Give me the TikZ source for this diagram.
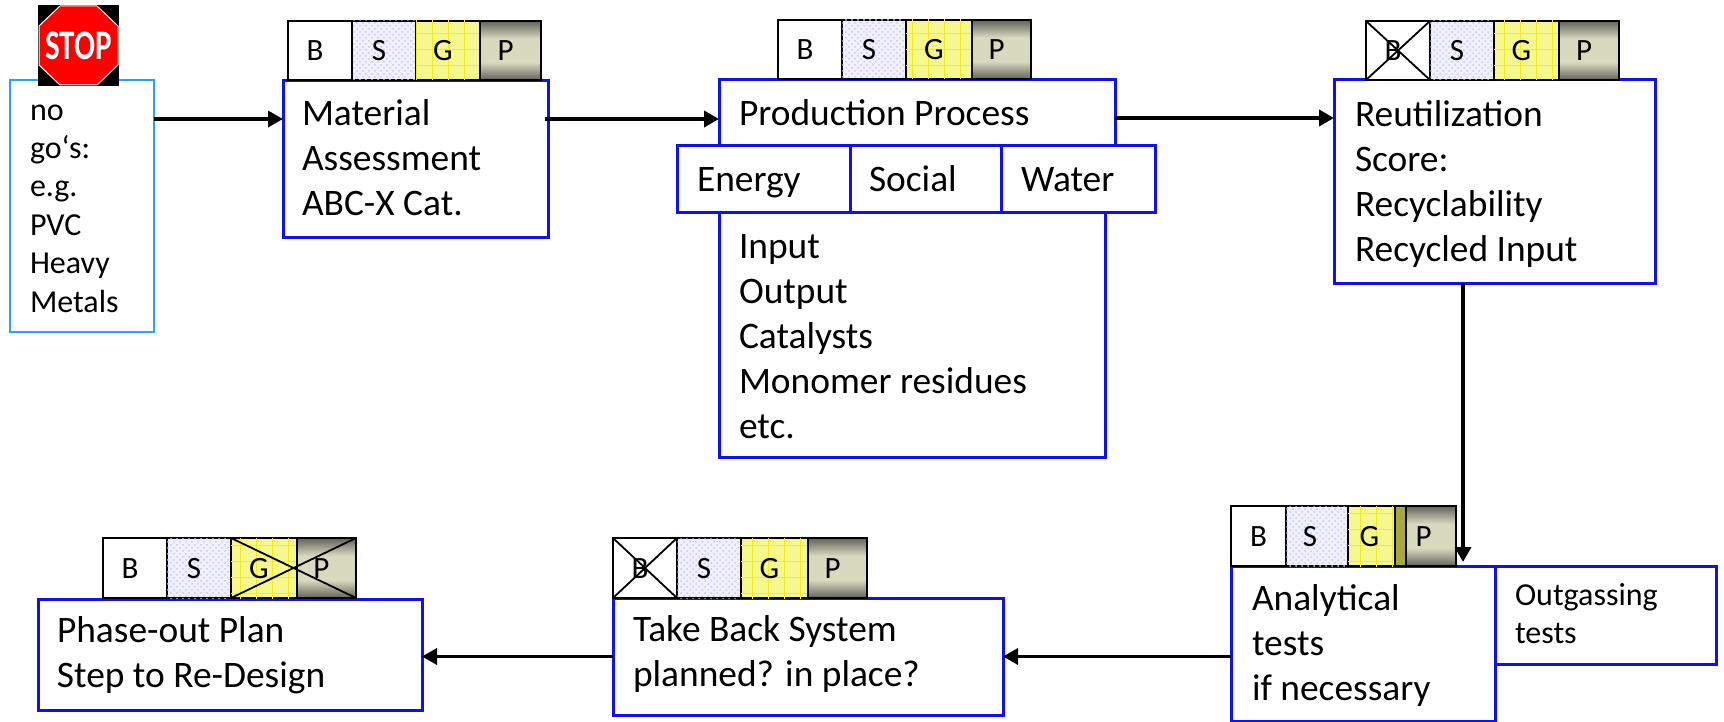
\documentclass[tikz,border=0pt]{standalone}
\usepackage{fontspec}
\setmainfont{Carlito}
\usetikzlibrary{arrows.meta,patterns,patterns.meta,calc}
\definecolor{boxblue}{HTML}{1010F0}
\definecolor{skyblue}{HTML}{2AA0FF}
\definecolor{sfill}{HTML}{F0F0FE}
\definecolor{sdots}{HTML}{C8C8F4}
\definecolor{gfill}{HTML}{F6F88E}
\definecolor{gline}{HTML}{EFEF20}
\definecolor{pdark}{HTML}{62635A}
\definecolor{pmid}{HTML}{D8DAC0}
\definecolor{band}{HTML}{A8A83C}
\definecolor{stopred}{HTML}{FF0000}
\pgfdeclareverticalshading{pshade}{100bp}{color(0bp)=(pdark); color(25bp)=(pdark); color(40bp)=(pmid); color(60bp)=(pmid); color(75bp)=(pdark); color(100bp)=(pdark)}
\newcommand{\bodyf}{\fontsize{18.7}{22.5}\selectfont}
\newcommand{\smallf}{\fontsize{16}{19.25}\selectfont}
\newcommand{\tagf}{\fontsize{15.5}{17}\selectfont}
\newcommand{\tagshift}{-5pt}
% name, style, x0, y0, w, h, left pad, first baseline, text (pixel values)
\newcommand{\tbox}[9]{%
  \node[#2,anchor=north west] (#1) at (#3,#4) {%
    \parbox[c][\dimexpr #6pt/2\relax][t]{\dimexpr #5pt/2\relax}{%
      \raggedright\leftskip=\dimexpr #7pt/2\relax
      \rule{0pt}{\dimexpr #8pt/2+0.5pt\relax}#9}};}
% name, style, x0, x1, y0, y1, letter
\newcommand{\tagcell}[7]{%
  \node[tagbox,#2,minimum width={(#4-#3)*0.5pt},minimum height={(#6-#5)*0.5pt}] (#1)
    at ({(#3+#4)/2},{(#5+#6)/2}) {\hspace*{\tagshift}#7};}
\tikzset{
  mainbox/.style={draw=boxblue,line width=1.5pt,inner sep=0pt,outer sep=0pt,font=\bodyf},
  minorbox/.style={draw=boxblue,line width=1.5pt,inner sep=0pt,outer sep=0pt,font=\smallf},
  skybox/.style={draw=skyblue,line width=1.1pt,inner sep=0pt,outer sep=0pt,font=\smallf},
  tagbox/.style={draw=black,line width=1pt,inner sep=0pt,outer sep=0pt,font=\tagf,text height=10pt,text depth=0pt},
  cb/.style={fill=white},
  cs/.style={fill=sfill,postaction={pattern={crosshatch dots},pattern color=sdots}},
  cg/.style={fill=gfill,postaction={pattern={Lines[angle=0,distance=8pt,line width=.5pt]},pattern color=gline},
             postaction={pattern={Lines[angle=90,distance=8pt,line width=.5pt]},pattern color=gline}},
  cp/.style={shading=pshade},
  arr/.style={line width=1.8pt,-{Triangle[length=7.5pt,width=8pt]}},
  crossline/.style={line width=.9pt,draw=black}
}
\begin{document}
\begin{tikzpicture}[x=0.5pt,y=-0.5pt]
\useasboundingbox (0,0) rectangle (1724,722);
% boxes
\tbox{nogo}{skybox}{10}{80}{144}{252}{20}{39}{no\\go‘s:\\e.g.\\PVC\\Heavy\\Metals}
\tbox{mat}{mainbox}{283}{81}{265}{156}{19}{43}{Material\\Assessment\\ABC-X Cat.}
\tbox{prod}{mainbox}{719}{80}{396}{66}{20}{44}{Production Process}
\tbox{energy}{mainbox}{677}{146}{173}{66}{20}{44}{Energy}
\tbox{social}{mainbox}{850}{146}{151}{66}{19}{44}{Social}
\tbox{water}{mainbox}{1001}{146}{154}{66}{20}{44}{Water}
\tbox{input}{mainbox}{719}{212}{386}{245}{20}{45}{Input\\Output\\Catalysts\\Monomer residues\\etc.}
\tbox{reut}{mainbox}{1334}{80}{321}{203}{21}{45}{Reutilization\\Score:\\Recyclability\\Recycled Input}
\tbox{anal}{mainbox}{1231}{566}{264}{155}{21}{43}{Analytical\\tests\\if necessary}
\tbox{outg}{minorbox}{1495}{566}{221}{98}{20}{38}{Outgassing\\tests}
\tbox{take}{mainbox}{613}{598}{390}{117}{20}{42}{Take Back System\\planned? in place?}
\tbox{phase}{mainbox}{38}{599}{384}{111}{19}{42}{Phase-out Plan\\Step to Re-Design}
% tag rows
\tagcell{ab}{cb}{288}{352}{21}{80}{B}
\tagcell{as}{cs}{352}{416}{21}{80}{S}
\tagcell{ag}{cg}{416}{480}{21}{80}{G}
\tagcell{ap}{cp}{480}{541}{21}{80}{P}
\tagcell{bb}{cb}{778}{842}{20}{79}{B}
\tagcell{bs}{cs}{842}{906}{20}{79}{S}
\tagcell{bg}{cg}{906}{972}{20}{79}{G}
\tagcell{bp}{cp}{972}{1031}{20}{79}{P}
\tagcell{cb}{cb}{1366}{1430}{21}{80}{B}
\tagcell{cs}{cs}{1430}{1494}{21}{80}{S}
\tagcell{cg}{cg}{1494}{1559}{21}{80}{G}
\tagcell{cp}{cp}{1559}{1619}{21}{80}{P}
\renewcommand{\tagshift}{0pt}
\tagcell{db}{cb}{1231}{1286}{506}{566}{B}
\renewcommand{\tagshift}{-7pt}
\tagcell{ds}{cs}{1286}{1348}{506}{566}{S}
\renewcommand{\tagshift}{-2pt}
\tagcell{dg}{cg}{1348}{1395}{506}{566}{G}
\tagcell{dp}{cp}{1395}{1456}{506}{566}{P}
\fill[band] (1395.5,507) rectangle (1406,565);
\draw[line width=1pt] (1406,506) -- (1406,566);
\renewcommand{\tagshift}{-5pt}
\tagcell{eb}{cb}{613}{677}{538}{598}{B}
\tagcell{es}{cs}{677}{741}{538}{598}{S}
\tagcell{eg}{cg}{741}{808}{538}{598}{G}
\tagcell{ep}{cp}{808}{867}{538}{598}{P}
\tagcell{fb}{cb}{103}{167}{538}{598}{B}
\tagcell{fs}{cs}{167}{231}{538}{598}{S}
\tagcell{fg}{cg}{231}{297}{538}{598}{G}
\tagcell{fp}{cp}{297}{356}{538}{598}{P}
% crosses
\draw[crossline] (cb.south west) -- (cb.north east) (cb.north west) -- (cb.south east);
\draw[crossline] (eb.south west) -- (eb.north east) (eb.north west) -- (eb.south east);
\draw[crossline] (fg.north west) -- (fp.south east) (fg.south west) -- (fp.north east);
% stop sign
\fill[black] (38,5) rectangle (119,86);
\draw[fill=stopred,draw=white,line width=.5pt] (60,6) -- (97,6) -- (118,26) -- (118,65) -- (97,85) -- (60,85) -- (39,65) -- (39,26) -- cycle;
\node[text=white,inner sep=0pt,font=\fontsize{21}{21}\selectfont\bfseries] (stop) at (78.5,46) {\scalebox{.74}[1]{STOP}};
% connectors
\draw[arr] ([yshift=-19.5pt]nogo.north east) -- ([yshift=-19pt]mat.north west);
\draw[arr] ([xshift=-1.5pt,yshift=-19pt]mat.north east) -- ([yshift=-19.5pt]prod.north west);
\draw[arr] ([yshift=-19pt]prod.north east) -- ([yshift=-19pt]reut.north west);
\draw[arr] ([xshift=64.5pt]reut.south west) -- ([xshift=116pt,yshift=2pt]anal.north west);
\draw[arr] ([yshift=-45.25pt]anal.north west) -- (take.east);
\draw[arr] (take.west) -- ([yshift=-1pt]phase.east);
\end{tikzpicture}
\end{document}
